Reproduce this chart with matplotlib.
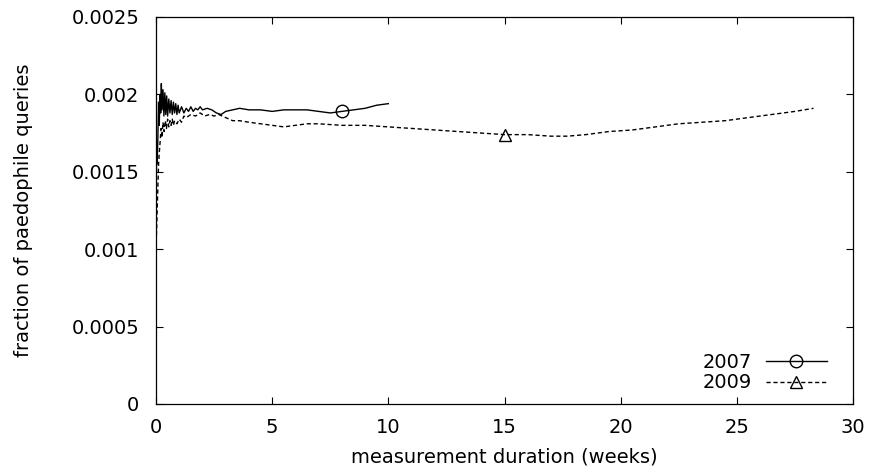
import matplotlib
matplotlib.use('Agg')
import matplotlib.pyplot as plt

# weeks since start of measurement, fraction of paedophile queries
w2007 = [0.0, 0.02, 0.05, 0.08, 0.11, 0.14, 0.17, 0.2, 0.23, 0.26, 0.3, 0.34, 0.38, 0.42,
         0.46, 0.5, 0.55, 0.6, 0.65, 0.7, 0.75, 0.8, 0.85, 0.9, 0.95, 1.0, 1.1, 1.2, 1.3,
         1.4, 1.5, 1.6, 1.7, 1.8, 1.9, 2.0, 2.2, 2.4, 2.6, 2.8, 3.0, 3.3, 3.6, 4.0, 4.5,
         5.0, 5.5, 6.0, 6.5, 7.0, 7.5, 8.0, 8.5, 9.0, 9.5, 10.0]
f2007 = [0.00100, 0.00160, 0.00155, 0.00172, 0.00195, 0.00180, 0.00200, 0.00188, 0.00207,
         0.00190, 0.00203, 0.00186, 0.00201, 0.00187, 0.00199, 0.00186, 0.00197, 0.00188,
         0.00196, 0.00187, 0.00195, 0.00188, 0.00194, 0.00187, 0.00193, 0.00188, 0.00192,
         0.00188, 0.00191, 0.00189, 0.00192, 0.00189, 0.00191, 0.00190, 0.00192, 0.00190,
         0.00191, 0.00190, 0.00188, 0.00187, 0.00189, 0.00190, 0.00191, 0.00190, 0.00190,
         0.00189, 0.00190, 0.00190, 0.00190, 0.00189, 0.00188, 0.00189, 0.00190, 0.00191,
         0.00193, 0.00194]

w2009 = [0.0, 0.02, 0.05, 0.08, 0.11, 0.14, 0.18, 0.22, 0.26, 0.3, 0.35, 0.4, 0.45, 0.5,
         0.55, 0.6, 0.65, 0.7, 0.75, 0.8, 0.9, 1.0, 1.1, 1.2, 1.3, 1.5, 1.7, 1.9, 2.1, 2.3,
         2.5, 2.7, 3.0, 3.3, 3.6, 4.0, 4.5, 5.0, 5.5, 6.0, 6.5, 7.0, 8.0, 9.0, 10.0, 11.0,
         12.0, 13.0, 14.0, 15.0, 16.0, 17.0, 17.7, 18.5, 19.5, 20.5, 21.5, 22.5, 23.5, 24.5,
         25.5, 26.5, 27.5, 28.3]
f2009 = [0.00100, 0.00110, 0.00125, 0.00140, 0.00155, 0.00162, 0.00170, 0.00178, 0.00172,
         0.00182, 0.00176, 0.00183, 0.00178, 0.00184, 0.00179, 0.00183, 0.00180, 0.00184,
         0.00180, 0.00183, 0.00181, 0.00184, 0.00182, 0.00186, 0.00185, 0.00187, 0.00186,
         0.00188, 0.00186, 0.00187, 0.00186, 0.00187, 0.00185, 0.00183, 0.00183, 0.00182,
         0.00181, 0.00180, 0.00179, 0.00180, 0.00181, 0.00181, 0.00180, 0.00180, 0.00179,
         0.00178, 0.00177, 0.00176, 0.00175, 0.00174, 0.00174, 0.00173, 0.00173, 0.00174,
         0.00176, 0.00177, 0.00179, 0.00181, 0.00182, 0.00183, 0.00185, 0.00187, 0.00189,
         0.00191]

xticks = [0, 5, 10, 15, 20, 25, 30]
yticks = [0, 0.0005, 0.001, 0.0015, 0.002, 0.0025]
ylabels = ['0', '0.0005', '0.001', '0.0015', '0.002', '0.0025']

plt.rcParams['font.family'] = ['DejaVu Sans']
plt.rcParams['font.size'] = 14

fig = plt.figure(figsize=(8.73, 4.74), dpi=100)
ax = fig.add_axes([0.1787, 0.1477, 0.7984, 0.8165])

ax.plot(w2007, f2007, '-', color='black', lw=1.0, marker='o', markersize=9,
        markerfacecolor='none', markeredgewidth=1.0, markevery=[w2007.index(8.0)],
        label='2007')
ax.plot(w2009, f2009, color='black', lw=1.0, dashes=(3, 2), marker='^', markersize=9,
        markerfacecolor='none', markeredgewidth=1.0, markevery=[w2009.index(15.0)],
        label='2009')

ax.set_xlim(0, 30)
ax.set_ylim(0, 0.0025)
ax.set_xticks(xticks)
ax.set_xticklabels([str(t) for t in xticks])
ax.set_yticks(yticks)
ax.set_yticklabels(ylabels)
ax.tick_params(direction='in', length=5, width=0.8, top=True, right=True, pad=10)
ax.tick_params(axis='y', pad=12)
for s in ax.spines.values():
    s.set_linewidth(0.9)

ax.set_xlabel('measurement duration (weeks)', labelpad=8)
ax.set_ylabel('fraction of paedophile queries', labelpad=28)

leg = ax.legend(loc='lower right', bbox_to_anchor=(0.976, 0.005), frameon=False,
                markerfirst=False, handlelength=3.1, borderpad=0, labelspacing=0.08,
                handletextpad=0.75, numpoints=1)

plt.savefig('out.png', dpi=100)
plt.close()
